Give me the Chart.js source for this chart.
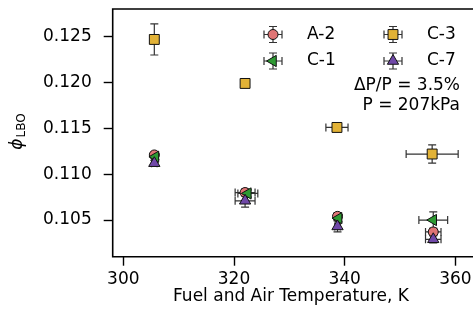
<!DOCTYPE html>
<html>
<head>
<meta charset="utf-8">
<script src="https://cdn.jsdelivr.net/npm/chart.js@4"></script>
<style>
  html, body { margin: 0; padding: 0; overflow: hidden; background: #fff; }
  canvas { display: block; }
</style>
</head>
<body>
<canvas id="myChart" width="473" height="324" style="width:473px;height:324px"></canvas>
<script>
// data
const seriesNames = ['A-2', 'C-1', 'C-3', 'C-7'];

const a2X    = [305.6, 322.0, 338.7, 356.0];
const a2Y    = [0.1121, 0.1080, 0.1054, 0.1037];
const a2XErr = [0.5, 1.8, 0.5, 1.4];
const a2YErr = [0.0003, 0.0004, 0.0004, 0.0004];

const c1X    = [305.8, 322.5, 338.9, 356.0];
const c1Y    = [0.1119, 0.1079, 0.1052, 0.1050];
const c1XErr = [0.5, 1.8, 0.5, 2.6];
const c1YErr = [0.0003, 0.0004, 0.0004, 0.0009];

const c3X    = [305.6, 322.0, 338.6, 355.8];
const c3Y    = [0.1247, 0.1199, 0.1151, 0.1122];
const c3XErr = [0.3, 0.4, 2.0, 4.7];
const c3YErr = [0.0017, 0.0003, 0.0004, 0.0010];

const c7X    = [305.6, 322.0, 338.7, 356.0];
const c7Y    = [0.1112, 0.1071, 0.1043, 0.1029];
const c7XErr = [0.5, 1.8, 0.5, 1.4];
const c7YErr = [0.0003, 0.0007, 0.0006, 0.0004];

const xTicks = [300, 320, 340, 360];
const yTicks = [0.105, 0.110, 0.115, 0.120, 0.125];

const noteLines = ['\u0394P/P = 3.5%', 'P = 207kPa'];
const xTitle = 'Fuel and Air Temperature, K';

const FONT = '"DejaVu Sans", sans-serif';

function pts(xs, ys, xe, ye) {
  return xs.map((x, i) => ({ x: x, y: ys[i], xe: xe[i], ye: ye[i] }));
}

function ds(label, data, color, style, rot, radius, order) {
  return {
    label: label,
    data: data,
    backgroundColor: color,
    borderColor: '#111',
    borderWidth: 1,
    pointStyle: style,
    rotation: rot,
    pointRadius: radius,
    pointHoverRadius: radius,
    showLine: false,
    order: order
  };
}

const datasets = [
  ds('A-2', pts(a2X, a2Y, a2XErr, a2YErr), '#e07575', 'circle', 0, 5, 4),
  ds('C-1', pts(c1X, c1Y, c1XErr, c1YErr), '#2e9a33', 'triangle', -90, 6.5, 3),
  ds('C-3', pts(c3X, c3Y, c3XErr, c3YErr), '#e2b236', 'rect', 0, 7, 2),
  ds('C-7', pts(c7X, c7Y, c7XErr, c7YErr), '#7048a8', 'triangle', 0, 6.5, 1)
];

const CAP = 4;

function errorBar(ctx, px, py, x0, x1, y0, y1) {
  ctx.beginPath();
  ctx.moveTo(x0, py); ctx.lineTo(x1, py);
  ctx.moveTo(px, y0); ctx.lineTo(px, y1);
  ctx.moveTo(x0, py - CAP); ctx.lineTo(x0, py + CAP);
  ctx.moveTo(x1, py - CAP); ctx.lineTo(x1, py + CAP);
  ctx.moveTo(px - CAP, y0); ctx.lineTo(px + CAP, y0);
  ctx.moveTo(px - CAP, y1); ctx.lineTo(px + CAP, y1);
  ctx.stroke();
}

function noPad(s) {
  s.paddingTop = 0; s.paddingBottom = 0; s.paddingLeft = 0; s.paddingRight = 0;
}

// error bars, frame, legend and texts
const extras = {
  id: 'extras',
  beforeDatasetsDraw(chart) {
    const ctx = chart.ctx;
    const xs = chart.scales.x, ys = chart.scales.y;
    ctx.save();
    ctx.strokeStyle = '#333';
    ctx.lineWidth = 1.2;
    chart.data.datasets.forEach(d => {
      d.data.forEach(p => {
        errorBar(ctx,
          xs.getPixelForValue(p.x), ys.getPixelForValue(p.y),
          xs.getPixelForValue(p.x - p.xe), xs.getPixelForValue(p.x + p.xe),
          ys.getPixelForValue(p.y + p.ye), ys.getPixelForValue(p.y - p.ye));
      });
    });
    ctx.restore();
  },
  afterDraw(chart) {
    const ctx = chart.ctx;
    const a = chart.chartArea;
    ctx.save();
    // frame: the right side lies past the picture edge
    ctx.strokeStyle = '#000';
    ctx.lineWidth = 1.6;
    ctx.beginPath();
    ctx.moveTo(a.right + 5, a.top);
    ctx.lineTo(a.left, a.top);
    ctx.lineTo(a.left, a.bottom);
    ctx.lineTo(a.right + 5, a.bottom);
    ctx.stroke();

    // legend, two columns
    const byName = {};
    chart.data.datasets.forEach(d => byName[d.label] = d);
    const cols = [273, 393];
    const rows = [34.5, 61];
    ctx.font = '17px ' + FONT;
    ctx.textBaseline = 'middle';
    ctx.textAlign = 'left';
    seriesNames.forEach((name, i) => {
      const d = byName[name];
      const cx = cols[Math.floor(i / 2)], cy = rows[i % 2];
      ctx.strokeStyle = '#333';
      ctx.lineWidth = 1.2;
      errorBar(ctx, cx, cy, cx - 9, cx + 9, cy - 8, cy + 8);
      ctx.fillStyle = d.backgroundColor;
      ctx.strokeStyle = d.borderColor;
      ctx.lineWidth = d.borderWidth;
      Chart.helpers.drawPoint(ctx, {
        pointStyle: d.pointStyle, rotation: d.rotation,
        radius: d.pointRadius, borderWidth: d.borderWidth
      }, cx, cy);
      ctx.fillStyle = '#000';
      ctx.fillText(name, cx + 34, cy);
    });

    ctx.textAlign = 'right';
    ctx.fillText(noteLines[0], 460, 86);
    ctx.fillText(noteLines[1], 460, 106);

    // axis titles
    ctx.textAlign = 'center';
    ctx.fillText(xTitle, 291, 297);

    ctx.translate(18, 132);
    ctx.rotate(-Math.PI / 2);
    ctx.textAlign = 'left';
    ctx.font = 'italic 17px ' + FONT;
    const w1 = ctx.measureText('\u03d5').width;
    ctx.font = '12px ' + FONT;
    const w2 = ctx.measureText('LBO').width;
    const start = -(w1 + w2) / 2;
    ctx.font = 'italic 17px ' + FONT;
    ctx.fillText('\u03d5', start, 0);
    ctx.font = '12px ' + FONT;
    ctx.fillText('LBO', start + w1 + 1, 4);
    ctx.restore();
  }
};

const ctx = document.getElementById('myChart').getContext('2d');

const myChart = new Chart(ctx, {
  type: 'scatter',
  data: { datasets: datasets },
  options: {
    responsive: false,
    animation: false,
    layout: { autoPadding: false, padding: { left: 0, right: 0, top: 9, bottom: 0 } },
    plugins: {
      legend: { display: false },
      tooltip: { enabled: false }
    },
    scales: {
      x: {
        type: 'linear',
        min: 298.08,
        max: 363.18,
        afterBuildTicks: s => { s.ticks = xTicks.map(v => ({ value: v })); },
        afterFit: s => { s.height = 67.3; noPad(s); },
        grid: { drawOnChartArea: false, tickLength: 9, tickColor: '#000', tickWidth: 1.4 },
        border: { display: false },
        ticks: { color: '#000', font: { family: FONT, size: 17 }, padding: 4, maxRotation: 0 }
      },
      y: {
        type: 'linear',
        min: 0.1010,
        max: 0.12802,
        afterBuildTicks: s => { s.ticks = yTicks.map(v => ({ value: v })); },
        afterFit: s => { s.width = 112.7; noPad(s); },
        grid: { drawOnChartArea: false, tickLength: 9, tickColor: '#000', tickWidth: 1.4 },
        border: { display: false },
        ticks: {
          color: '#000', font: { family: FONT, size: 17 }, padding: 12,
          callback: v => v.toFixed(3)
        }
      }
    }
  },
  plugins: [extras]
});
</script>
</body>
</html>
